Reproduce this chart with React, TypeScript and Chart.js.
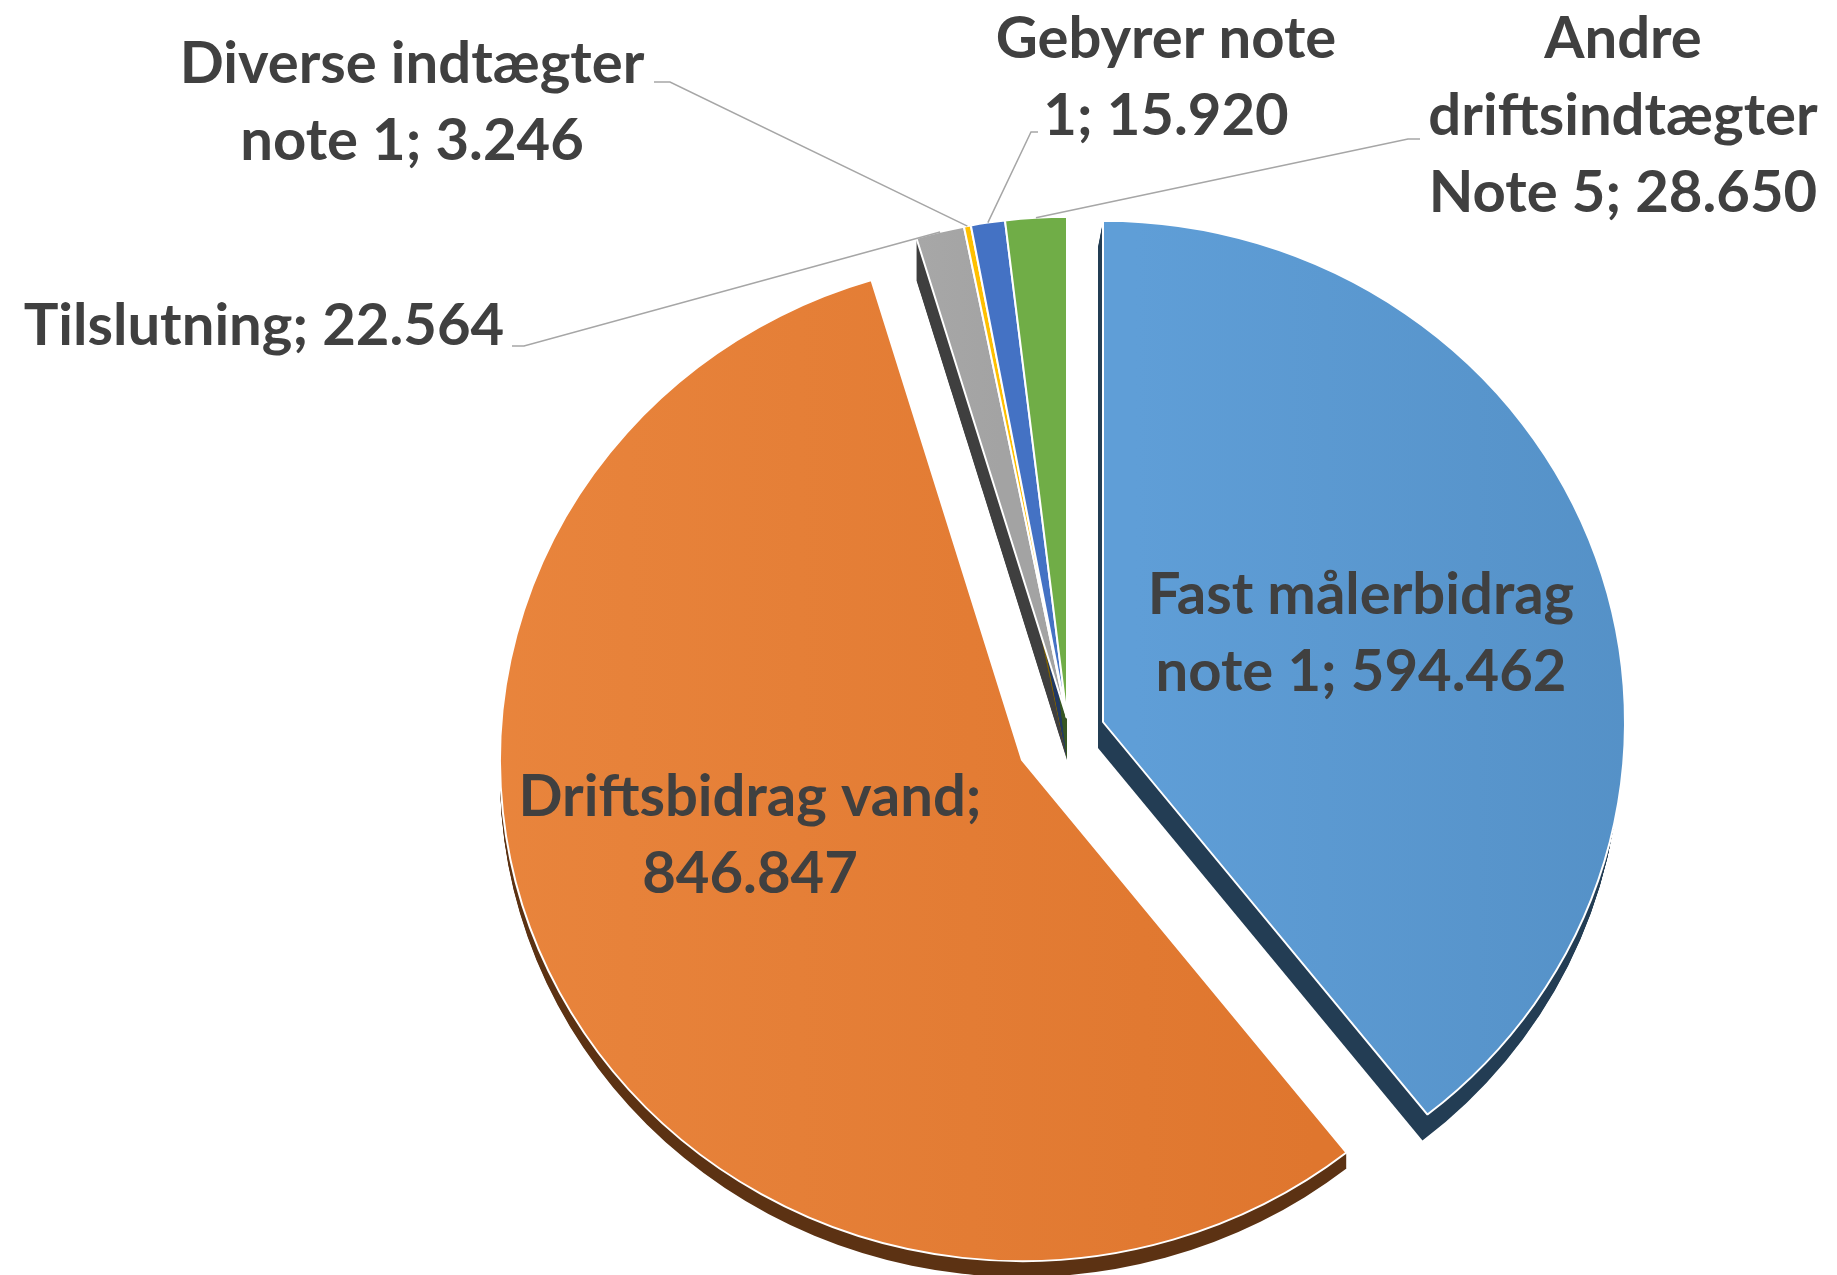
import React, { useEffect, useRef } from "react";
import { Chart, registerables } from "chart.js";

Chart.register(...registerables);

// ---------- data ----------
const categories = [
  "Fast målerbidrag note 1",
  "Driftsbidrag vand",
  "Tilslutning",
  "Diverse indtægter note 1",
  "Gebyrer note 1",
  "Andre driftsindtægter Note 5",
];
const values = [594462, 846847, 22564, 3246, 15920, 28650];

// ---------- style / layout ----------
const W = 1837;
const H = 1275;
const SY = 0.96; // slight perspective squash
const faceColors = [
  ["#5F9ED7", "#5490C6"],
  ["#E9853D", "#DF762E"],
  ["#A7A7A7", "#A3A3A3"],
  ["#FFC000", "#FFC000"],
  ["#4472C4", "#4472C4"],
  ["#70AD47", "#70AD47"],
];
const sideColors = ["#233D54", "#5C3213", "#3F3F3F", "#7F6000", "#223962", "#375623"];
const explode: number[][] = [[36, 4], [-45, 42], [0, 0], [0, 0], [0, 0], [0, 0]];
const extrude: number[][] = [[-5, 26], [0, 16], [0, 42], [0, 42], [0, 42], [0, 42]];
const labelBreaks = [[2, 3], [2, 1], [2], [2, 3], [2, 2], [1, 1, 3]];
const labelPos: number[][] = [[1361, 595], [750, 797], [264, 326], [412, 64], [1166, 39], [1623, 39]];
const leaderElbows: (number[][] | null)[] = [
  null,
  null,
  [[512, 346], [524, 346]],
  [[654, 82], [670, 82]],
  [[1038, 132], [1031, 132]],
  [[1420, 139], [1408, 139]],
];
const LINE_H = 77;
const FONT = "bold 58px Lato, 'Open Sans', sans-serif";
const TEXT_COLOR = "#404040";

function fmt(n: number): string {
  return String(n).replace(/\B(?=(\d{3})+(?!\d))/g, ".");
}

function labelLines(i: number): string[] {
  const words = `${categories[i]}; ${fmt(values[i])}`.split(" ");
  const out: string[] = [];
  let k = 0;
  for (const n of labelBreaks[i]) {
    out.push(words.slice(k, k + n).join(" "));
    k += n;
  }
  return out;
}

function applyTransform(c: CanvasRenderingContext2D, x: number, y: number, dx: number, dy: number) {
  c.translate(dx, dy);
  c.translate(x, y);
  c.scale(1, SY);
  c.translate(-x, -y);
}

const pie3d = {
  id: "pie3d",
  beforeDatasetsDraw(chart: any) {
    const meta = chart.getDatasetMeta(0);
    const ctx: CanvasRenderingContext2D = chart.ctx;
    meta.data.forEach((el: any, i: number) => {
      if (!el.__wrapped) {
        const orig = el.draw.bind(el);
        el.draw = (c: CanvasRenderingContext2D, area: any) => {
          const { x, y } = el.getProps(["x", "y"], true);
          c.save();
          applyTransform(c, x, y, explode[i][0], explode[i][1]);
          orig(c, area);
          c.restore();
        };
        el.__wrapped = true;
      }
    });
    meta.data.forEach((el: any, i: number) => {
      const { x, y, startAngle, endAngle, outerRadius } = el.getProps(
        ["x", "y", "startAngle", "endAngle", "outerRadius"],
        true
      );
      const [ex, ey] = extrude[i];
      const n = Math.ceil(Math.max(Math.abs(ex), Math.abs(ey)));
      ctx.fillStyle = sideColors[i];
      for (let s = 1; s <= n; s++) {
        const t = s / n;
        ctx.save();
        applyTransform(ctx, x, y, explode[i][0] + ex * t, explode[i][1] + ey * t);
        ctx.beginPath();
        ctx.moveTo(x, y);
        ctx.arc(x, y, outerRadius, startAngle, endAngle);
        ctx.closePath();
        ctx.fill();
        ctx.restore();
      }
    });
  },
  afterDatasetsDraw(chart: any) {
    const meta = chart.getDatasetMeta(0);
    const ctx: CanvasRenderingContext2D = chart.ctx;
    ctx.save();
    ctx.strokeStyle = "#A6A6A6";
    ctx.lineWidth = 1.5;
    meta.data.forEach((el: any, i: number) => {
      const elb = leaderElbows[i];
      if (!elb) return;
      const { x, y, startAngle, endAngle, outerRadius } = el.getProps(
        ["x", "y", "startAngle", "endAngle", "outerRadius"],
        true
      );
      const mid = (startAngle + endAngle) / 2;
      const ax = x + explode[i][0] + Math.cos(mid) * outerRadius;
      const ay = y + explode[i][1] + Math.sin(mid) * outerRadius * SY;
      ctx.beginPath();
      ctx.moveTo(elb[0][0], elb[0][1]);
      ctx.lineTo(elb[1][0], elb[1][1]);
      ctx.lineTo(ax, ay);
      ctx.stroke();
    });
    ctx.fillStyle = TEXT_COLOR;
    ctx.font = FONT;
    ctx.textAlign = "center";
    ctx.textBaseline = "middle";
    categories.forEach((_, i) => {
      labelLines(i).forEach((ln, j) => {
        ctx.fillText(ln, labelPos[i][0], labelPos[i][1] + j * LINE_H);
      });
    });
    ctx.restore();
  },
};

export default function App() {
  const ref = useRef<HTMLCanvasElement | null>(null);
  useEffect(() => {
    const canvas = ref.current!;
    const c2d = canvas.getContext("2d")!;
    const gradX: number[][] = [[1100, 1630], [500, 1360], [920, 1000], [960, 990], [980, 1030], [1010, 1070]];
    const bg = faceColors.map((fc, i) => {
      const g = c2d.createLinearGradient(gradX[i][0], 0, gradX[i][1], 0);
      g.addColorStop(0, fc[0]);
      g.addColorStop(1, fc[1]);
      return g;
    });
    const chart = new Chart(canvas, {
      type: "pie",
      data: {
        labels: categories,
        datasets: [
          {
            data: values,
            backgroundColor: bg as any,
            borderColor: "#FFFFFF",
            borderWidth: 2,
            radius: 522,
          } as any,
        ],
      },
      options: {
        responsive: false,
        animation: false,
        devicePixelRatio: 1,
        events: [],
        layout: { padding: { left: 297, right: 0, top: 161, bottom: 0 } },
        plugins: {
          legend: { display: false },
          tooltip: { enabled: false },
          title: { display: false },
        },
      } as any,
      plugins: [pie3d as any],
    });
    return () => chart.destroy();
  }, []);
  return (
    <div style={{ position: "absolute", left: 0, top: 0, width: W, height: H, background: "#FFFFFF" }}>
      <canvas ref={ref} width={W} height={H} style={{ width: W, height: H, display: "block" }} />
    </div>
  );
}
